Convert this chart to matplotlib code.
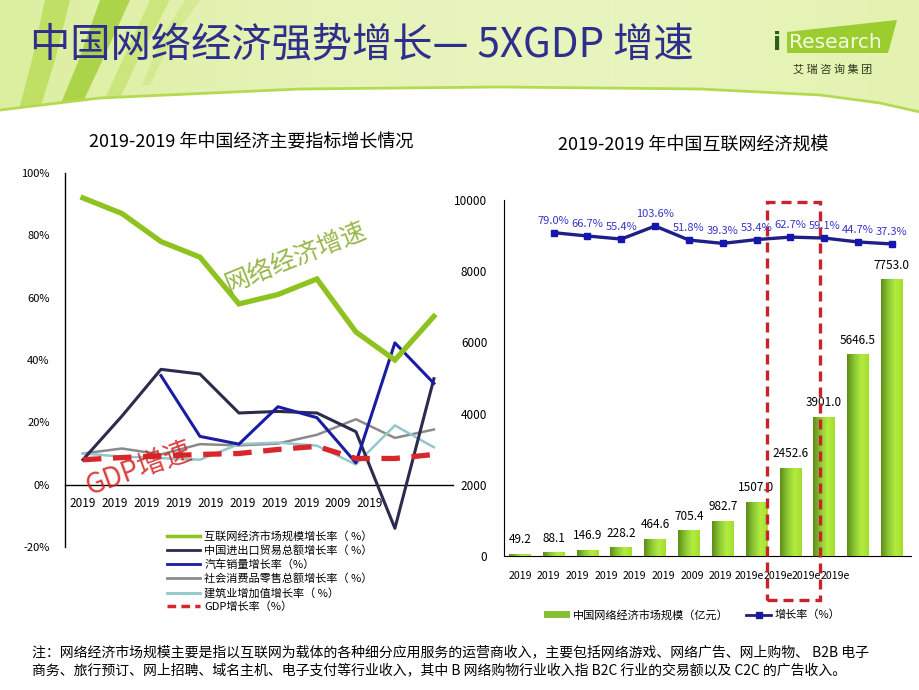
"""Slide: 中国网络经济强势增长 — two charts on an iResearch-style header."""
import numpy as np
import matplotlib
matplotlib.use("Agg")
import matplotlib.pyplot as plt
from matplotlib.patches import Polygon, Rectangle, Patch
from matplotlib.lines import Line2D
from matplotlib.colors import LinearSegmentedColormap

plt.rcParams["font.family"] = ["Noto Sans CJK SC", "DejaVu Sans"]

# ---------------- data ----------------
# left chart: growth of main indicators (%)
left_years = ["2019", "2019", "2019", "2019", "2019", "2019", "2019", "2019", "2009", "2019"]
net_growth = [92, 87, 78, 73, 58, 61, 66, 49, 40, 54]
trade_growth = [8, 22, 37, 35.5, 23, 23.5, 23, 17, -14, 34]
auto_growth = [np.nan, np.nan, 35, 15.5, 13, 25, 21.5, 7, 45.5, 32.5]
retail_growth = [10, 11.6, 9.7, 13, 12.6, 13.2, 16, 21, 15, 17.7]
build_growth = [10, 9, 8.5, 8, 13, 13.5, 12.5, 6.5, 19, 12]
gdp_growth = [8, 8.7, 9.2, 9.7, 10, 11.3, 12.3, 8.4, 8.4, 9.7]
left_labels = ["互联网经济市场规模增长率（ %）", "中国进出口贸易总额增长率（ %）",
               "汽车销量增长率（%）", "社会消费品零售总额增长率（ %）",
               "建筑业增加值增长率（ %）", "GDP增长率（%）"]

# right chart: market size (亿元) and growth rate (%)
right_years = ["2019"] * 6 + ["2009", "2019"] + ["2019e"] * 4
market_size = [49.2, 88.1, 146.9, 228.2, 464.6, 705.4, 982.7, 1507.0, 2452.6, 3901.0, 5646.5, 7753.0]
rate_vals = [79.0, 66.7, 55.4, 103.6, 51.8, 39.3, 53.4, 62.7, 59.1, 44.7, 37.3]

C_TITLE = "#2e2e8c"
C_GREEN = "#8dc21f"
C_TRADE = "#2b2b4e"
C_AUTO = "#1c1ca3"
C_RETAIL = "#8a8a8a"
C_BUILD = "#93c7cc"
C_GDP = "#d9262b"

W, H = 920, 690
fig = plt.figure(figsize=(9.2, 6.9), dpi=100)

# ---------------- background / header ----------------
bg = fig.add_axes([0, 0, 1, 1])
bg.set_xlim(0, W)
bg.set_ylim(H, 0)
bg.axis("off")
grad = np.linspace(0, 1, 256).reshape(1, -1)
hdr_cmap = LinearSegmentedColormap.from_list("hdr", ["#dcefa0", "#e6f3b8", "#e9f5bf", "#e3f2b0"])
bg.imshow(grad, extent=(0, W, 130, 0), cmap=hdr_cmap, aspect="auto", zorder=0)
# leaves at top left
leaves = [
    [(45, 0), (70, 0), (55, 60), (35, 125), (15, 125), (32, 60)],
    [(100, 0), (130, 0), (98, 70), (72, 125), (52, 125), (78, 62)],
    [(150, 0), (170, 0), (138, 60), (110, 120), (95, 120), (125, 55)],
    [(185, 0), (200, 0), (172, 40), (150, 85), (142, 85), (163, 35)],
]
for pts, col, a in zip(leaves, ["#b3da4a", "#9ccb2c", "#bfe060", "#cbe67a"], [0.7, 0.75, 0.6, 0.55]):
    bg.add_patch(Polygon(pts, closed=True, facecolor=col, edgecolor="none", alpha=a, zorder=1))
# white body with swoosh edge
curve_x = np.array([0, 100, 300, 500, 700, 820, 880, 920])
curve_y = np.array([110, 98, 89, 87, 89, 95, 103, 112])
body = list(zip(curve_x, curve_y)) + [(W, H), (0, H)]
bg.add_patch(Polygon(body, closed=True, facecolor="white", edgecolor="none", zorder=2))
bg.plot(curve_x, curve_y, color="#b5da52", lw=2, zorder=3)

# title
bg.text(30, 45, "中国网络经济强势增长— 5XGDP 增速", fontsize=29, color=C_TITLE,
        va="center", ha="left", zorder=4)

# logo
bg.add_patch(Polygon([(787, 32), (897, 20), (888, 53), (787, 53)], closed=True,
                     facecolor="#9ccd2e", edgecolor="none", zorder=4))
bg.text(773, 43, "i", fontsize=17, color="#2f5e10", fontweight="bold", va="center",
        ha="left", family="DejaVu Sans", zorder=5)
bg.text(789, 42, "Research", fontsize=14.5, color="#f4fae6", va="center", ha="left",
        family="DejaVu Sans", zorder=5)
bg.text(833, 69, "艾 瑞 咨 询 集 团", fontsize=8, color="#2c3a20", va="center",
        ha="center", zorder=5)

# chart titles
bg.text(251, 142, "2019-2019 年中国经济主要指标增长情况", fontsize=13, ha="center",
        va="center", color="black", zorder=4)
bg.text(693, 145, "2019-2019 年中国互联网经济规模", fontsize=13, ha="center",
        va="center", color="black", zorder=4)

# footnote
bg.text(32, 652, "注：网络经济市场规模主要是指以互联网为载体的各种细分应用服务的运营商收入，"
        "主要包括网络游戏、网络广告、网上购物、 B2B 电子",
        fontsize=10, ha="left", va="center", zorder=4)
bg.text(32, 670, "商务、旅行预订、网上招聘、域名主机、电子支付等行业收入，其中 B 网络购物行业"
        "收入指 B2C 行业的交易额以及 C2C 的广告收入。",
        fontsize=10, ha="left", va="center", zorder=4)

# ---------------- left chart ----------------
ax = fig.add_axes([65 / W, 1 - 547 / H, 388 / W, 374 / H])
ax.patch.set_alpha(0)
xi = np.arange(len(net_growth))
ax.plot(xi, net_growth, color=C_GREEN, lw=3.8, solid_joinstyle="miter", zorder=5)
ax.plot(xi, trade_growth, color=C_TRADE, lw=2.2, zorder=4)
ax.plot(xi, auto_growth, color=C_AUTO, lw=2.2, zorder=4)
ax.plot(xi, retail_growth, color=C_RETAIL, lw=1.8, zorder=3)
ax.plot(xi, build_growth, color=C_BUILD, lw=1.8, zorder=3)
ax.plot(xi, gdp_growth, color=C_GDP, lw=3.8, dashes=(3.5, 2.2), zorder=4)

ax.set_xlim(-0.46, 9.49)
ax.set_ylim(-20, 100)
ax.set_yticks(np.arange(-20, 101, 20))
ax.set_yticklabels([f"{v}%" for v in range(-20, 101, 20)])
ax.set_xticks(np.arange(len(left_years)) * 0.818)
ax.set_xticklabels(left_years)
ax.spines["bottom"].set_position(("data", 0))
for s in ["top", "right"]:
    ax.spines[s].set_visible(False)
ax.spines["left"].set_linewidth(1.0)
ax.spines["bottom"].set_linewidth(1.0)
ax.tick_params(axis="y", length=0, pad=11, labelsize=8)
ax.tick_params(axis="x", length=0, pad=9, labelsize=8.5)

ax.text(5.45, 73, "网络经济增速", fontsize=18, rotation=22, color="#86aa2a", alpha=0.85,
        ha="center", va="center", zorder=6)
ax.text(1.45, 5, "GDP增速", fontsize=20, rotation=20, color="#d42020", alpha=0.85,
        ha="center", va="center", zorder=6)

handles = [
    Line2D([], [], color=C_GREEN, lw=2.5),
    Line2D([], [], color=C_TRADE, lw=2),
    Line2D([], [], color=C_AUTO, lw=2),
    Line2D([], [], color=C_RETAIL, lw=2),
    Line2D([], [], color=C_BUILD, lw=2),
    Line2D([], [], color=C_GDP, lw=2.5, dashes=(2.5, 1.5)),
]
fig.legend(handles, left_labels, loc="upper left", bbox_to_anchor=(163 / W, 1 - 527 / H),
           frameon=False, fontsize=8, handlelength=2.9, handletextpad=0.4,
           labelspacing=0.3, borderaxespad=0)

# ---------------- right chart ----------------
axr = fig.add_axes([504 / W, 1 - 556 / H, 407 / W, 356 / H])
axr.patch.set_alpha(0)
bx = np.arange(len(market_size))
bars = axr.bar(bx, market_size, width=0.64, color="#8cc63f", zorder=2)
bar_cmap = LinearSegmentedColormap.from_list("bar", ["#5e8c16", "#8ac634", "#b4ec40", "#a2de2e"])
for p in bars.patches:
    x0, y0 = p.get_x(), p.get_y()
    axr.imshow(grad, extent=(x0, x0 + p.get_width(), y0, y0 + p.get_height()),
               cmap=bar_cmap, aspect="auto", zorder=3)
for xv, v in zip(bx, market_size):
    axr.annotate(f"{v:.1f}", (xv, v), xytext=(0, 6), textcoords="offset points",
                 ha="center", va="bottom", fontsize=8.5, zorder=6)

axr.set_xlim(-0.47, 11.57)
axr.set_ylim(0, 10000)
axr.set_yticks(np.arange(0, 10001, 2000))
axr.set_xticks(np.arange(len(right_years)) * 0.848)
axr.set_xticklabels(right_years)
for s in ["top", "right"]:
    axr.spines[s].set_visible(False)
axr.tick_params(axis="y", length=0, pad=12, labelsize=8.5)
axr.tick_params(axis="x", length=0, pad=11, labelsize=7.6)

axt = axr.twinx()
axt.set_ylim(-1118, 200)
axt.axis("off")
rx = np.arange(1, len(rate_vals) + 1)
axt.plot(rx, rate_vals, color="#1f1f86", lw=2.4, marker="s", ms=5,
         markerfacecolor="#1515b0", markeredgecolor="#1515b0", zorder=5)
for xv, v in zip(rx, rate_vals):
    axt.annotate(f"{v:.1f}%", (xv, v), xytext=(0, 5), textcoords="offset points",
                 ha="center", va="bottom", fontsize=8, color="#3535c8", zorder=6)

# red dashed highlight box
axr.add_patch(Rectangle((7.3, -1236), 1.58, 11180, fill=False, edgecolor="#c8232c",
                        lw=2.4, ls=(0, (3, 1.8)), clip_on=False, zorder=7))

axr.legend([Patch(facecolor="#86c035"),
            Line2D([], [], color="#1f1f86", lw=2, marker="s", ms=4,
                   markerfacecolor="#1515b0")],
           ["中国网络经济市场规模（亿元）", "增长率（%）"],
           loc="center left", bbox_to_anchor=(540 / W, 1 - 615 / H),
           bbox_transform=fig.transFigure, ncol=2, frameon=False, fontsize=8,
           handlelength=2.3, handletextpad=0.3, columnspacing=1.5, borderaxespad=0)

fig.savefig("out.png", dpi=100)
